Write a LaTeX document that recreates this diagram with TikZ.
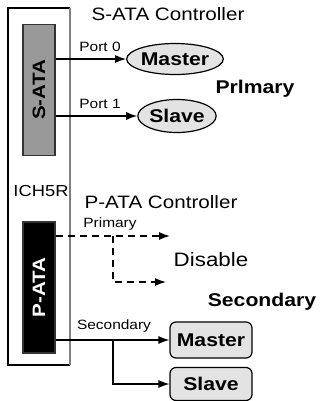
\documentclass[tikz,border=0pt]{standalone}
\usepackage{fontspec}
\setmainfont[FakeStretch=1.15]{Liberation Sans}
\usetikzlibrary{arrows.meta,positioning,shapes.geometric}
\begin{document}
\begin{tikzpicture}[x=1bp,y=-1bp,
    lbl/.style={font=\fontsize{13.5}{15}\selectfont, inner sep=0pt},
    head/.style={font=\fontsize{18}{20}\selectfont, inner sep=0pt},
    bighead/.style={font=\bfseries\fontsize{18.5}{20}\selectfont, inner sep=0pt},
    chip/.style={draw=black!80, line width=1.2pt, minimum width=131bp, minimum height=32bp,
      rotate=90, font=\bfseries\fontsize{18}{20}\selectfont, inner sep=0pt},
    drive/.style={draw=black, line width=1.2pt, fill=gray!22,
      font=\bfseries\fontsize{18.5}{20}\selectfont, inner sep=0pt},
    disk/.style={drive, rounded corners=6bp, minimum width=82bp},
    link/.style={line width=1.3pt, -{Latex[length=11bp,width=8bp]}},
    off/.style={dash pattern=on 7bp off 5bp}]
\useasboundingbox (0,0) rectangle (322,401);
% ICH5R package
\draw[line width=1.4pt] (70,8) -- (8,8) -- (8,365) -- (70,365);
\draw[gray, line width=1.4pt] (70,8) -- (70,365);
\node[head, font=\fontsize{16}{18}\selectfont] (ich) at (41,191) {ICH5R};
% S-ATA side
\node[chip, fill=gray!80] (sata) at (39,90) {S-ATA};
\node[head] (satactl) at (168,14) {S-ATA Controller};
\node[drive, ellipse, minimum width=80bp, minimum height=31bp] (smaster) at (175,59) {Master};
\node[drive, ellipse, minimum width=78bp, minimum height=33bp] (sslave) at (177,116) {Slave};
\draw[link] (sata.south |- smaster.west) -- (smaster.west);
\draw[link] (sata.south |- sslave.west) -- (sslave.west);
\node[lbl] (port0) at (100,47) {Port 0};
\node[lbl] (port1) at (100,104) {Port 1};
\node[bighead] (prim) at (255,89) {Prlmary};
% P-ATA side
\node[chip, fill=black, text=white] (pata) at (39,287.5) {P-ATA};
\node[head] (patactl) at (161,202) {P-ATA Controller};
\coordinate (dis1) at (170,236);
\coordinate (dis2) at (166,282);
\coordinate (fork1) at (113,236);
\draw[link, off] (pata.south |- dis1) -- (dis1);
\draw[link, off] (fork1) |- (dis2);
\node[lbl] (pprim) at (110,224) {Primary};
\node[head, font=\fontsize{19.5}{20}\selectfont] (disable) at (211,260) {Disable};
\node[bighead] (sec) at (262,302) {Secondary};
\node[disk, minimum height=36bp] (pmaster) at (211,340) {Master};
\node[disk, minimum height=33bp] (pslave) at (211,384) {Slave};
\coordinate (fork2) at (113,340);
\draw[link] (pata.south |- pmaster.west) -- (pmaster.west);
\draw[link] (fork2) |- (pslave.west);
\node[lbl] (psec) at (114,326) {Secondary};
\end{tikzpicture}
\end{document}
